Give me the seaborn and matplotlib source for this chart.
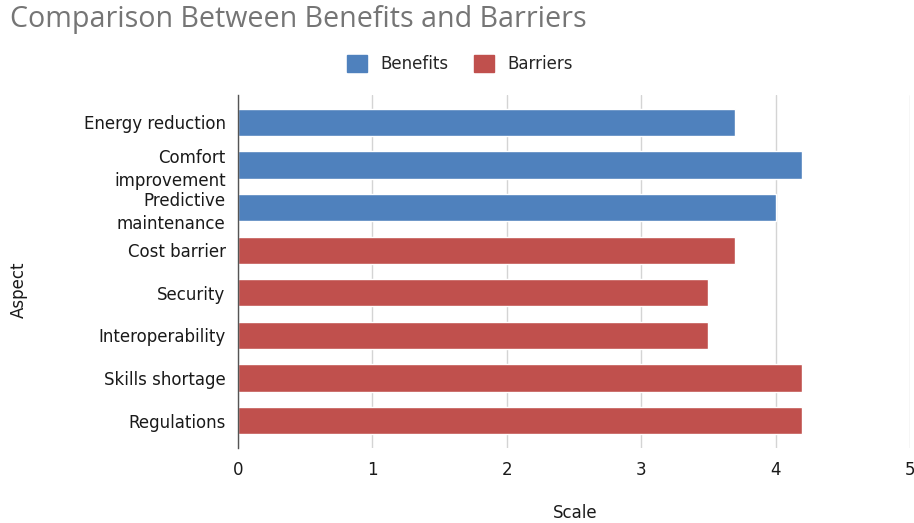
import matplotlib
matplotlib.use("Agg")
import matplotlib.pyplot as plt
import seaborn as sns
import pandas as pd
from matplotlib.patches import Patch

aspects = ["Energy reduction", "Comfort\nimprovement", "Predictive\nmaintenance",
           "Cost barrier", "Security", "Interoperability", "Skills shortage", "Regulations"]
values = [3.7, 4.2, 4.0, 3.7, 3.5, 3.5, 4.2, 4.2]
groups = ["Benefits", "Benefits", "Benefits", "Barriers", "Barriers", "Barriers", "Barriers", "Barriers"]
x_ticks = [0, 1, 2, 3, 4, 5]

df = pd.DataFrame({"Aspect": aspects, "Scale": values, "Group": groups})

sns.set_theme(style="white")
plt.rcParams['font.family'] = ['DejaVu Sans']

fig = plt.figure(figsize=(9.14, 5.23), dpi=100)
ax = fig.add_axes([0.2604, 0.1434, 0.7352, 0.675])

palette = {"Benefits": "#4F81BD", "Barriers": "#C0504D"}
sns.barplot(data=df, y="Aspect", x="Scale", hue="Group", palette=palette,
            dodge=False, width=0.64, orient="h", ax=ax, legend=False, saturation=1)

ax.set_xlim(0, 5)
ax.set_ylim(7.64, -0.64)
ax.set_xticks(x_ticks)
ax.set_xticklabels([str(t) for t in x_ticks], fontsize=12, color="#1a1a1a")
ax.tick_params(axis="y", labelsize=12, labelcolor="#1a1a1a", length=0, pad=9)
ax.tick_params(axis="x", length=6, color="#cccccc", width=1, pad=3, direction="out")
ax.xaxis.grid(True, color="#d4d4d4", linewidth=1)
ax.set_axisbelow(True)
for s in ["top", "right", "bottom"]:
    ax.spines[s].set_visible(False)
ax.spines["left"].set_color("#555555")
ax.spines["left"].set_linewidth(1)
for lbl in ax.get_yticklabels():
    lbl.set_linespacing(1.4)

ax.set_xlabel("Scale", fontsize=12, color="#1a1a1a")
ax.xaxis.set_label_coords(0.5015, -0.158)
ax.set_ylabel("Aspect", fontsize=12, color="#1a1a1a")
ax.yaxis.set_label_coords(-0.312, 0.448)

fig.text(0.011, 0.962, "Comparison Between Benefits and Barriers", fontsize=20.6,
         color="#757575", ha="left", va="center", family="Open Sans")

handles = [Patch(facecolor="#4F81BD", edgecolor="#4F81BD"),
           Patch(facecolor="#C0504D", edgecolor="#C0504D")]
fig.legend(handles, ["Benefits", "Barriers"], loc="center", bbox_to_anchor=(0.503, 0.877),
           ncol=2, frameon=False, fontsize=12, handlelength=1.2, handleheight=1.2,
           columnspacing=1.5, handletextpad=0.8)

fig.savefig("out.png", dpi=100)
